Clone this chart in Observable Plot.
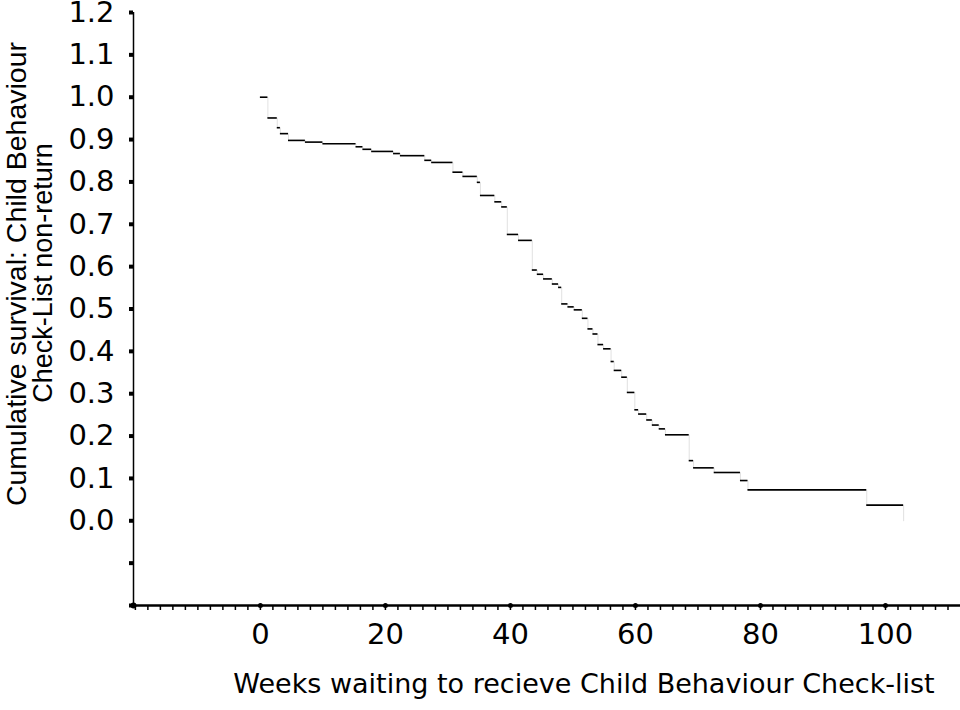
<!DOCTYPE html>
<html>
<head>
<meta charset="utf-8">
<script src="https://cdn.jsdelivr.net/npm/d3@7"></script>
<script src="https://cdn.jsdelivr.net/npm/@observablehq/plot@0.6"></script>
<style>
  html, body { margin: 0; padding: 0; background: #fff; }
  #chart svg { display: block; }
</style>
</head>
<body>
<div id="chart"></div>
<script>
// Kaplan–Meier step points (week at which each step starts)
const weeks = [0, 1.2, 2.7, 3.2, 4.5, 7.2, 10.0, 15.3, 16.4, 17.8, 21.3, 22.4, 26.3, 27.4,
  30.8, 32.4, 34.7, 35.2, 37.5, 38.6, 39.5, 41.3, 43.5, 44.3, 45.3, 46.7, 47.7, 48.2,
  49.2, 50.2, 51.5, 52.4, 53.2, 54.0, 54.9, 56.1, 56.6, 57.8, 58.7, 59.9, 60.5, 61.8,
  62.7, 63.8, 64.8, 68.6, 69.3, 72.6, 76.8, 78.0, 97.0, 102.9];
const survival = [1.0, 0.951, 0.928, 0.914, 0.898, 0.894, 0.890, 0.883, 0.877, 0.872, 0.867, 0.862, 0.851, 0.846,
  0.823, 0.813, 0.799, 0.768, 0.753, 0.741, 0.676, 0.662, 0.592, 0.582, 0.571, 0.559, 0.551, 0.512,
  0.505, 0.498, 0.478, 0.453, 0.441, 0.416, 0.406, 0.376, 0.355, 0.339, 0.303, 0.262, 0.252, 0.238,
  0.226, 0.217, 0.203, 0.142, 0.125, 0.114, 0.095, 0.073, 0.037, 0.0];

const yTicks = [-0.2, -0.1, 0.0, 0.1, 0.2, 0.3, 0.4, 0.5, 0.6, 0.7, 0.8, 0.9, 1.0, 1.1, 1.2];
const xMajorTicks = [0, 20, 40, 60, 80, 100];
const xMinorTicks = [-20,-18,-16,-14,-12,-10,-8,-6,-4,-2,0,2,4,6,8,10,12,14,16,18,20,22,24,26,28,30,32,34,36,38,40,
  42,44,46,48,50,52,54,56,58,60,62,64,66,68,70,72,74,76,78,80,82,84,86,88,90,92,94,96,98,100,102,104,106,108,110];
const xTitle = "Weeks waiting to recieve Child Behaviour Check-list";
const yTitle1 = "Cumulative survival: Child Behaviour";
const yTitle2 = "Check-List non-return";

const data = weeks.map((w, i) => ({week: w, s: survival[i]}));
const segs = data.slice(0, -1).map((d, i) => ({x1: d.week, x2: data[i + 1].week, s: d.s}));

const xMin = -20.3, xMax = 112, yMin = -0.2, yMax = 1.2;
const wideFont = "'DejaVu Sans', Verdana, sans-serif";
const font = "'Liberation Sans', Arial, Helvetica, sans-serif";

const chart = Plot.plot({
  width: 960,
  height: 710,
  marginLeft: 133,
  marginRight: 0,
  marginTop: 12,
  marginBottom: 105,
  style: {fontFamily: wideFont, fontSize: "29px", color: "#000", background: "#fff"},
  x: {domain: [xMin, xMax]},
  y: {domain: [yMin, yMax]},
  marks: [
    // y axis
    Plot.ruleX([xMin], {y1: yMin, y2: yMax, stroke: "#000", strokeWidth: 1.5}),
    Plot.axisY(yTicks, {anchor: "left", tickSize: 4, strokeWidth: 4, tickPadding: 15,
      fontSize: 29, fontFamily: wideFont, tickFormat: d => d < 0 ? "" : d.toFixed(1), label: null}),
    // x axis
    Plot.ruleY([yMin], {x1: xMin, x2: xMax, stroke: "#000", strokeWidth: 2.5}),
    Plot.axisX(xMinorTicks, {anchor: "bottom", tickSize: 5, strokeWidth: 1.5, tickFormat: () => "", label: null}),
    Plot.axisX(xMajorTicks, {anchor: "bottom", tickSize: 0, tickPadding: 18, fontSize: 29, fontFamily: wideFont, label: null}),
    Plot.dot(xMajorTicks, {x: d => d, y: yMin, r: 2.5, fill: "#000", stroke: null}),
    Plot.dot([xMin], {x: d => d, y: yMin, r: 3, fill: "#000", stroke: null}),
    // survival curve: faint verticals + horizontal steps
    Plot.line(data, {x: "week", y: "s", curve: "step-after", stroke: "#ccc", strokeWidth: 0.6}),
    Plot.ruleY(segs, {x1: "x1", x2: "x2", y: "s", stroke: "#000", strokeWidth: 1.6}),
    // titles
    Plot.text([xTitle], {text: d => d, frameAnchor: "bottom", textAnchor: "middle", dx: 37, dy: 87,
      fontSize: 27, fontFamily: wideFont}),
    Plot.text([yTitle1], {text: d => d, frameAnchor: "left", textAnchor: "middle", rotate: -90, dx: -117, dy: -35,
      fontSize: 28.5, fontFamily: font}),
    Plot.text([yTitle2], {text: d => d, frameAnchor: "left", textAnchor: "middle", rotate: -90, dx: -90, dy: -36,
      fontSize: 27, fontFamily: font})
  ]
});
document.getElementById("chart").appendChild(chart);
</script>
</body>
</html>
